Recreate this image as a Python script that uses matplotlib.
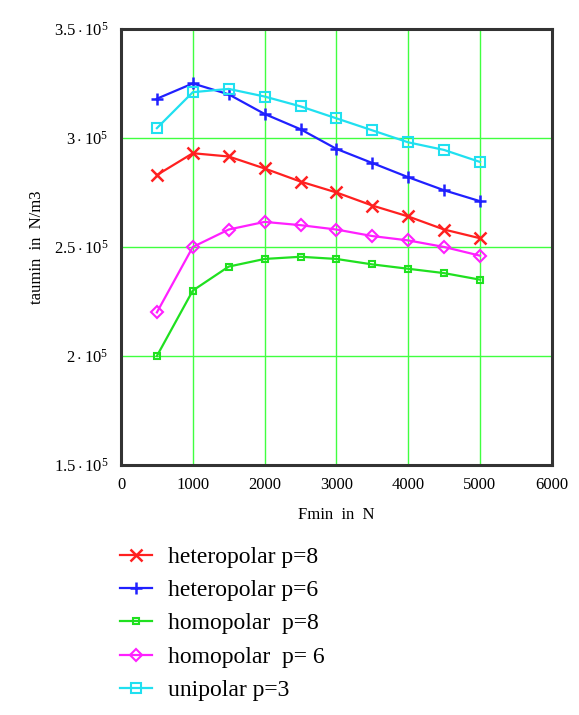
import matplotlib
matplotlib.use("Agg")
from matplotlib import pyplot as plt
from matplotlib.ticker import FuncFormatter

plt.rcParams['font.family'] = ['Liberation Serif', 'DejaVu Serif']
plt.rcParams['mathtext.fontset'] = 'custom'
plt.rcParams['mathtext.rm'] = 'Liberation Serif'
plt.rcParams['mathtext.it'] = 'Liberation Serif'

fmin = [500, 1000, 1500, 2000, 2500, 3000, 3500, 4000, 4500, 5000]
hetero_p8 = [2.83e5, 2.93e5, 2.915e5, 2.86e5, 2.80e5, 2.75e5, 2.69e5, 2.64e5, 2.58e5, 2.54e5]
hetero_p6 = [3.18e5, 3.25e5, 3.20e5, 3.11e5, 3.04e5, 2.95e5, 2.885e5, 2.82e5, 2.76e5, 2.71e5]
homo_p8 = [2.00e5, 2.30e5, 2.41e5, 2.445e5, 2.455e5, 2.445e5, 2.42e5, 2.40e5, 2.38e5, 2.35e5]
homo_p6 = [2.20e5, 2.50e5, 2.58e5, 2.615e5, 2.60e5, 2.58e5, 2.55e5, 2.53e5, 2.50e5, 2.46e5]
uni_p3 = [3.045e5, 3.21e5, 3.225e5, 3.19e5, 3.145e5, 3.09e5, 3.035e5, 2.98e5, 2.945e5, 2.89e5]

labels = ["heteropolar p=8", "heteropolar p=6", "homopolar  p=8",
          "homopolar  p= 6", "unipolar p=3"]

fig = plt.figure(figsize=(5.79, 7.15), dpi=100)
ax = fig.add_axes([0.209, 0.3497, 0.744, 0.6098])

ax.plot(fmin, hetero_p8, color="#ff2020", marker="x", ms=8, mew=1.8, lw=1.6, label=labels[0])
ax.plot(fmin, hetero_p6, color="#2020ff", marker="+", ms=9, mew=1.8, lw=1.6, label=labels[1])
ax.plot(fmin, homo_p8, color="#20e020", marker="s", ms=5, mfc="none", mew=1.5, lw=1.6, label=labels[2])
ax.plot(fmin, homo_p6, color="#ff20ff", marker="D", ms=6, mfc="none", mew=1.5, lw=1.6, label=labels[3])
ax.plot(fmin, uni_p3, color="#20e0f0", marker="s", ms=7, mfc="none", mew=1.5, lw=1.6, label=labels[4])

ax.set_xlim(0, 6000)
ax.set_ylim(1.5e5, 3.5e5)
ax.set_xticks(range(0, 6001, 1000))
ax.set_yticks([1.5e5, 2e5, 2.5e5, 3e5, 3.5e5])

def yfmt(v, pos):
    m = v / 1e5
    return r"$%s\cdot10^{5}$" % ("%g" % m)

ax.yaxis.set_major_formatter(FuncFormatter(yfmt))
ax.tick_params(length=0, labelsize=12, pad=9)

# green grid, interior lines only
for x in range(1000, 6000, 1000):
    ax.axvline(x, color="#40ff40", lw=1, zorder=0)
for y in [2e5, 2.5e5, 3e5]:
    ax.axhline(y, color="#40ff40", lw=1, zorder=0)

for sp in ax.spines.values():
    sp.set_linewidth(2.2)
    sp.set_color("#333333")

ax.set_xlabel("Fmin  in  N", fontsize=12, labelpad=10)
ax.set_ylabel("taumin  in  N/m3", fontsize=12, labelpad=6)

fig.legend(loc="upper left", bbox_to_anchor=(0.207, 0.236), frameon=False,
           fontsize=17, handlelength=1.35, labelspacing=0.5, handletextpad=0.7,
           borderpad=0, borderaxespad=0)

fig.savefig("out.png", dpi=100)
